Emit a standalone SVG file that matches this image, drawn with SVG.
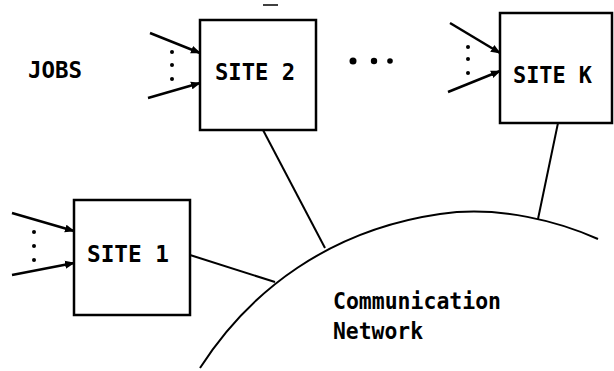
<svg xmlns="http://www.w3.org/2000/svg" width="614" height="371" viewBox="0 0 614 371">
<style>
.box{fill:#fff;stroke:#000;stroke-width:2.5}
.lbl{font-family:"DejaVu Sans Mono","Liberation Mono",monospace;font-weight:bold;font-size:23px;fill:#000}
.net{font-family:"DejaVu Sans Mono","Liberation Mono",monospace;font-size:23px;fill:#000;font-weight:bold}
.ln{fill:none;stroke:#000;stroke-width:2}
.arr{fill:none;stroke:#000;stroke-width:2.5;marker-end:url(#ah)}
.dot{fill:#000}
</style>
<defs>
<marker id="ah" markerUnits="userSpaceOnUse" markerWidth="10" markerHeight="10" viewBox="0 0 10 10" refX="9" refY="5" orient="auto">
<path d="M0,1 L10,5 L0,9 Z" fill="#000"/>
</marker>
</defs>
<rect width="614" height="371" fill="#fff"/>
<line x1="263" y1="5" x2="278" y2="5" stroke="#000" stroke-width="1.5"/>
<g id="jobs-label"><text class="lbl" x="28" y="78" textLength="54" lengthAdjust="spacingAndGlyphs">JOBS</text></g>
<g id="site2"><rect class="box" x="200" y="20" width="116" height="110"/><text class="lbl" x="215" y="80" textLength="80" lengthAdjust="spacingAndGlyphs">SITE 2</text></g>
<g id="siteK"><rect class="box" x="500" y="13" width="112" height="110"/><text class="lbl" x="513" y="83" textLength="79" lengthAdjust="spacingAndGlyphs">SITE K</text></g>
<g id="site1"><rect class="box" x="74" y="200" width="116" height="115"/><text class="lbl" x="87" y="262" textLength="82" lengthAdjust="spacingAndGlyphs">SITE 1</text></g>
<g id="network">
<path class="ln" stroke-width="2.5" d="M200,368 C250,290 330,230 440,214 C500,205.3 560,222 598,239"/>
<text class="net" x="333" y="309" textLength="168" lengthAdjust="spacingAndGlyphs">Communication</text>
<text class="net" x="333" y="339" textLength="90" lengthAdjust="spacingAndGlyphs">Network</text>
</g>
<g id="ellipsis"><circle class="dot" cx="353" cy="61" r="3.5"/><circle class="dot" cx="374" cy="61" r="3.2"/><circle class="dot" cx="390" cy="61" r="2.8"/></g>
<g id="connectors">
<line class="arr" x1="150" y1="33" x2="200" y2="53"/>
<line class="arr" x1="148" y1="98" x2="200" y2="83"/>
<circle class="dot" cx="172" cy="52" r="2"/><circle class="dot" cx="172" cy="65" r="2"/><circle class="dot" cx="172" cy="79" r="2"/>
<line class="arr" x1="450" y1="23" x2="500" y2="53"/>
<line class="arr" x1="448" y1="92" x2="500" y2="71"/>
<circle class="dot" cx="468" cy="47" r="2"/><circle class="dot" cx="468" cy="59" r="2"/><circle class="dot" cx="468" cy="73" r="2"/>
<line class="arr" x1="12" y1="213" x2="74" y2="231"/>
<line class="arr" x1="12" y1="275" x2="74" y2="263"/>
<circle class="dot" cx="34" cy="232" r="2"/><circle class="dot" cx="34" cy="246" r="2"/><circle class="dot" cx="34" cy="260" r="2"/>
<line class="ln" x1="263" y1="130" x2="325" y2="248"/>
<line class="ln" x1="558" y1="123" x2="538" y2="219"/>
<line class="ln" stroke-width="2.5" x1="190" y1="255" x2="275" y2="282"/>
</g>
</svg>
